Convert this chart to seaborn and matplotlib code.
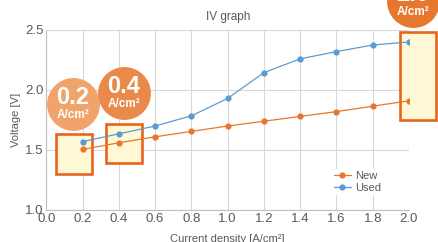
"""IV graph: voltage vs current density for new and used cells."""

import matplotlib

matplotlib.use("Agg")
import matplotlib.pyplot as plt
import pandas as pd
import seaborn as sns
from matplotlib.patches import Rectangle

# Data
current = [0.2, 0.4, 0.6, 0.8, 1.0, 1.2, 1.4, 1.6, 1.8, 2.0]
voltage_new = [1.505, 1.56, 1.61, 1.655, 1.70, 1.74, 1.78, 1.82, 1.865, 1.91]
voltage_used = [1.57, 1.635, 1.70, 1.785, 1.93, 2.145, 2.26, 2.32, 2.375, 2.40]
series_names = ["New", "Used"]

# Highlight boxes (x0, y0, width, height) and the bubble labels
highlight_boxes = [(0.053, 1.30, 0.20, 0.33), (0.33, 1.39, 0.20, 0.33), (1.95, 1.75, 0.20, 0.73)]
bubble_values = ["0.2", "0.4", "2.0"]
bubble_pos = [(0.147, 1.886), (0.428, 1.978), (2.02, 2.74)]
bubble_colors = ["#F0A46C", "#EA8A4A", "#E8772E"]

ORANGE = "#E8772E"
BLUE = "#5B9BD5"
GREY = "#595959"

df = pd.DataFrame({
    "current": current * 2,
    "voltage": voltage_new + voltage_used,
    "series": [series_names[0]] * len(current) + [series_names[1]] * len(current),
})

sns.set_theme(style="whitegrid")
plt.rcParams["font.family"] = ["Liberation Sans", "DejaVu Sans"]

fig = plt.figure(figsize=(4.38, 2.42), dpi=100)
ax = fig.add_axes([46.4 / 438, 32 / 242, 362.6 / 438, 180 / 242])

# Highlight boxes under the lines
for x0, y0, w, h in highlight_boxes:
    ax.add_patch(Rectangle((x0, y0), w, h, facecolor="#FFF8D4", edgecolor="#E8641E",
                           linewidth=1.9, zorder=2, clip_on=False))

sns.lineplot(data=df, x="current", y="voltage", hue="series",
             palette={"New": ORANGE, "Used": BLUE}, marker="o", markersize=4.5,
             markeredgewidth=0, linewidth=0.9, ax=ax, zorder=3)

# Bubbles with the current density labels
for (bx, by), val, col in zip(bubble_pos, bubble_values, bubble_colors):
    ax.scatter([bx], [by], s=1450, color=col, linewidths=0, zorder=5, clip_on=False)
    ax.annotate(val, (bx, by), xytext=(0, 4.5), textcoords="offset points", ha="center",
                va="center", color="white", fontsize=17, fontweight="bold", zorder=6,
                annotation_clip=False)
    ax.annotate("A/cm²", (bx, by), xytext=(0, -8), textcoords="offset points", ha="center",
                va="center", color="white", fontsize=8.5, fontweight="bold", zorder=6,
                annotation_clip=False)

ax.set_xlim(0, 2.0)
ax.set_ylim(1.0, 2.5)
ax.set_xticks([0.0, 0.2, 0.4, 0.6, 0.8, 1.0, 1.2, 1.4, 1.6, 1.8, 2.0])
ax.set_yticks([1.0, 1.5, 2.0, 2.5])
ax.tick_params(axis="both", labelsize=9.5, labelcolor=GREY, pad=2, length=0)
ax.grid(True, color="#D9D9D9", linewidth=0.8)
for side, spine in ax.spines.items():
    spine.set_visible(side in ("left", "bottom"))
    spine.set_color("#BFBFBF")
    spine.set_linewidth(0.8)

ax.set_title("IV graph", fontsize=8.5, color=GREY, pad=7)
ax.set_xlabel("Current density [A/cm²]", fontsize=8, color=GREY, labelpad=7)
ax.set_ylabel("Voltage [V]", fontsize=8, color=GREY, labelpad=3)

leg = ax.legend(loc="center", bbox_to_anchor=(0.857, 0.157), frameon=True, fontsize=8,
                handlelength=1.6, handletextpad=0.3, labelspacing=0.15, borderpad=0.2)
leg.get_frame().set_edgecolor("none")
leg.get_frame().set_facecolor("white")
leg.get_frame().set_alpha(1)
leg.set_title(None)
for text in leg.get_texts():
    text.set_color(GREY)

fig.savefig("out.png", dpi=100)
